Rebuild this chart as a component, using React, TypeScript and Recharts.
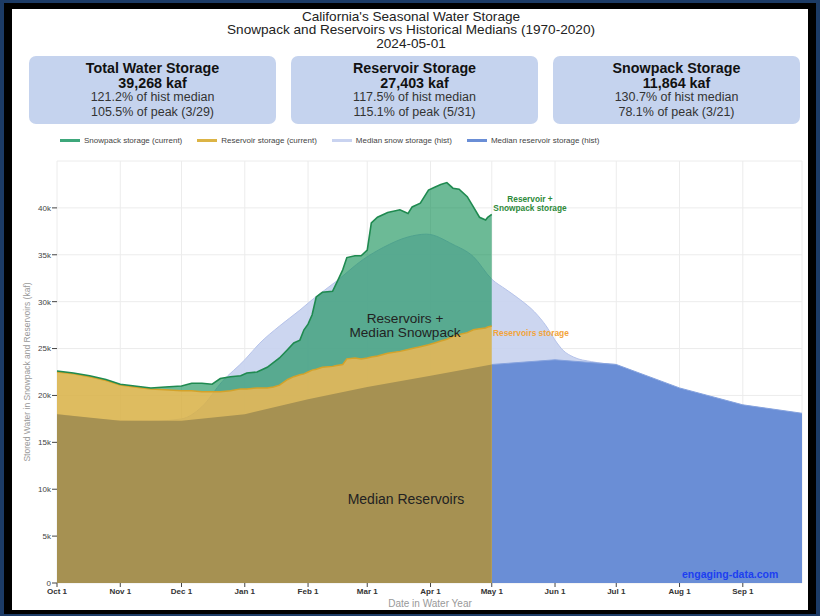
import React from "react";
import { ComposedChart, Area, Line, XAxis, YAxis, CartesianGrid } from "recharts";

const FONT = '"Liberation Sans", Arial, Helvetica, sans-serif';

// x axis: day of water year (Oct 1 = 0)
const monthTickDays = [0, 31, 61, 92, 123, 152, 183, 213, 244, 274, 305, 336];
const monthTickLabels = ["Oct 1", "Nov 1", "Dec 1", "Jan 1", "Feb 1", "Mar 1", "Apr 1", "May 1", "Jun 1", "Jul 1", "Aug 1", "Sep 1"];
const yTicks = [0, 5, 10, 15, 20, 25, 30, 35, 40]; // thousand acre-feet
const currentEndDay = 213; // May 1

// Median reservoir storage (hist), kaf (thousands)
const medResDays = [0, 31, 61, 92, 123, 152, 183, 213, 244, 274, 305, 336, 365];
const medRes = [18.0, 17.3, 17.3, 18.0, 19.6, 20.9, 22.1, 23.3, 23.8, 23.3, 20.8, 19.0, 18.1];

// Median reservoir + median snow storage (hist), top of the lavender band
const medTopDays = [0, 31, 46, 61, 71, 81, 92, 99, 109, 119, 125, 137, 150, 160, 172, 181, 194, 204, 213, 220, 227, 234, 240, 244, 248, 253, 262, 274];
const medTop = [18.0, 17.3, 17.25, 17.5, 18.8, 21.5, 23.8, 25.5, 27.4, 29.1, 30.2, 32.2, 34.5, 35.8, 36.9, 37.2, 36.1, 34.8, 32.4, 31.3, 30.2, 28.9, 27.3, 25.9, 24.8, 24.1, 23.6, 23.3];

// Current water year (to May 1)
const curDays = [0, 8, 16, 24, 31, 38, 46, 53, 61, 66, 71, 76, 80, 85, 90, 93, 98, 103, 106, 109, 113, 116, 119, 121, 123, 125, 127, 130, 135, 137, 140, 142, 146, 149, 152, 154, 157, 162, 168, 172, 174, 178, 182, 185, 188, 191, 194, 197, 201, 204, 207, 210, 211, 213];
const curRes = [22.5, 22.3, 22.0, 21.6, 21.1, 20.9, 20.7, 20.6, 20.5, 20.5, 20.4, 20.4, 20.4, 20.5, 20.7, 20.7, 20.8, 20.8, 20.9, 21.1, 21.7, 22.0, 22.2, 22.3, 22.5, 22.7, 22.8, 23.0, 23.1, 23.2, 23.3, 23.9, 24.0, 23.9, 24.0, 24.1, 24.2, 24.5, 24.7, 24.9, 25.0, 25.2, 25.4, 25.6, 25.8, 26.0, 26.3, 26.5, 26.7, 27.0, 27.1, 27.2, 27.3, 27.4];
const curSnow = [0.1, 0.1, 0.1, 0.1, 0.1, 0.1, 0.1, 0.3, 0.5, 0.8, 0.9, 0.8, 1.4, 1.5, 1.4, 1.7, 1.7, 2.2, 2.6, 2.9, 3.2, 3.6, 3.7, 4.7, 5.1, 5.9, 7.7, 8.0, 8.0, 8.8, 10.1, 10.8, 10.9, 11.0, 11.5, 14.3, 14.8, 15.0, 15.1, 14.5, 15.1, 15.3, 16.5, 16.6, 16.7, 16.7, 15.8, 15.5, 14.5, 13.1, 11.9, 11.5, 11.7, 11.9];

const titleLines = [
  "California's Seasonal Water Storage",
  "Snowpack and Reservoirs vs Historical Medians (1970-2020)",
  "2024-05-01",
];

const cards = [
  { title: "Total Water Storage", value: "39,268 kaf", l1: "121.2% of hist median", l2: "105.5% of peak (3/29)" },
  { title: "Reservoir Storage", value: "27,403 kaf", l1: "117.5% of hist median", l2: "115.1% of peak (5/31)" },
  { title: "Snowpack Storage", value: "11,864 kaf", l1: "130.7% of hist median", l2: "78.1% of peak (3/21)" },
];

const legendItems = [
  { label: "Snowpack storage (current)", color: "#3ea77b" },
  { label: "Reservoir storage (current)", color: "#dcb445" },
  { label: "Median snow storage (hist)", color: "#c9d3f0" },
  { label: "Median reservoir storage (hist)", color: "#6a8ed6" },
];

type Row = {
  day: number;
  medRes: number | null;
  medResBefore: number | null;
  medResAfter: number | null;
  medTop: number | null;
  curRes: number | null;
  curSnow: number | null;
  total: number | null;
};

const allDays = Array.from(new Set([...medResDays, ...medTopDays, ...curDays])).sort((a, b) => a - b);
const rows: Row[] = allDays.map((d) => {
  const mi = medResDays.indexOf(d);
  const ti = medTopDays.indexOf(d);
  const ci = curDays.indexOf(d);
  const mr = mi >= 0 ? medRes[mi] : null;
  return {
    day: d,
    medRes: mr,
    medResBefore: mr != null && d <= currentEndDay ? mr : null,
    medResAfter: mr != null && d >= currentEndDay ? mr : null,
    medTop: ti >= 0 ? medTop[ti] : null,
    curRes: ci >= 0 ? curRes[ci] : null,
    curSnow: ci >= 0 ? curSnow[ci] : null,
    total: ci >= 0 ? Math.round((curRes[ci] + curSnow[ci]) * 100) / 100 : null,
  };
});

const Txt = ({ x, y, anchor = "middle", children, fontSize = 10, style }: any) => {
  const w = 600;
  const h = Math.ceil(fontSize * 1.15);
  const left = anchor === "middle" ? x - w / 2 : anchor === "start" ? x : x - w;
  return (
    <div
      style={{
        position: "absolute",
        left,
        top: y - h / 2,
        width: w,
        height: h,
        lineHeight: `${h}px`,
        fontSize,
        textAlign: anchor === "middle" ? "center" : anchor === "start" ? "left" : "right",
        whiteSpace: "nowrap",
        fontFamily: FONT,
        pointerEvents: "none",
        ...style,
      }}
    >
      {children}
    </div>
  );
};

export default function App() {
  return (
    <div style={{ position: "fixed", left: 0, top: 0, width: 820, height: 616, background: "#1c3b66", fontFamily: FONT, overflow: "hidden" }}>
      <div style={{ position: "absolute", left: 4, top: 3, right: 4, bottom: 2, background: "#000" }} />
      <div style={{ position: "absolute", left: 12, top: 9, width: 796, height: 601, background: "#fff" }} />

      {/* Title */}
      {titleLines.map((t, i) => (
        <Txt key={t} x={411} y={16 + i * 13.5} fontSize={13.6} style={{ color: "#222", height: 13, lineHeight: "13px", top: 16 + i * 13.5 - 6.5 }}>
          {t}
        </Txt>
      ))}

      {/* Cards */}
      {cards.map((c, i) => (
        <div
          key={c.title}
          style={{
            position: "absolute",
            left: 29 + i * 262,
            top: 56,
            width: 247,
            height: 68,
            background: "#c5d3ee",
            borderRadius: 7,
            textAlign: "center",
            boxSizing: "border-box",
            paddingTop: 5,
            color: "#111",
          }}
        >
          <div style={{ fontWeight: "bold", fontSize: 14.3, lineHeight: "14.5px" }}>{c.title}</div>
          <div style={{ fontWeight: "bold", fontSize: 14.3, lineHeight: "14.5px" }}>{c.value}</div>
          <div style={{ fontSize: 12.5, lineHeight: "14.5px", color: "#333" }}>{c.l1}</div>
          <div style={{ fontSize: 12.5, lineHeight: "14.5px", color: "#333" }}>{c.l2}</div>
        </div>
      ))}

      {/* Legend */}
      <div style={{ position: "absolute", left: 60, top: 133, height: 14, display: "flex", alignItems: "center", fontSize: 8, color: "#444", whiteSpace: "nowrap" }}>
        {legendItems.map((it) => (
          <div key={it.label} style={{ display: "flex", alignItems: "center", marginRight: 15 }}>
            <div style={{ width: 20, height: 3, background: it.color, marginRight: 4 }} />
            <span>{it.label}</span>
          </div>
        ))}
      </div>

      {/* Chart */}
      <div style={{ position: "absolute", left: 0, top: 0 }}>
        <ComposedChart
          width={820}
          height={616}
          data={rows}
          margin={{ top: 161, right: 18, bottom: 13, left: 12 }}
          style={{ fontFamily: FONT }}
        >
          <CartesianGrid stroke="#ececec" strokeWidth={1} />
          <XAxis
            dataKey="day"
            type="number"
            domain={[0, 365]}
            ticks={monthTickDays}
            tickFormatter={(v: number) => monthTickLabels[monthTickDays.indexOf(v)] ?? ""}
            axisLine={false}
            tickLine={{ stroke: "#444" }}
            tickSize={4}
            tickMargin={1.5}
            height={20}
            interval={0}
            tick={{ fontSize: 8, fill: "#333", fontWeight: "bold", fontFamily: FONT }}
          />
          <YAxis
            type="number"
            domain={[0, 45]}
            ticks={yTicks}
            tickFormatter={(v: number) => (v === 0 ? "0" : `${v}k`)}
            axisLine={false}
            tickLine={{ stroke: "#444" }}
            tickSize={5}
            tickMargin={1}
            width={45}
            interval={0}
            tick={{ fontSize: 8, fill: "#444", fontFamily: FONT }}
          />
          <Area
            name="medTop"
            dataKey="medTop"
            type="monotone"
            fill="#c7d1ee"
            fillOpacity={0.9}
            stroke="#b6c3ea"
            strokeWidth={1}
            connectNulls
            dot={false}
            activeDot={false}
            isAnimationActive={false}
          />
          <Area
            name="medResAfter"
            dataKey="medResAfter"
            type="linear"
            fill="#6a8ed6"
            fillOpacity={1}
            stroke="#85a2de"
            strokeWidth={1}
            connectNulls
            dot={false}
            activeDot={false}
            isAnimationActive={false}
          />
          <Area
            name="curRes"
            dataKey="curRes"
            type="linear"
            fill="rgb(216,176,68)"
            fillOpacity={0.85}
            stroke="none"
            connectNulls
            dot={false}
            activeDot={false}
            isAnimationActive={false}
          />
          <Area
            name="medResBefore"
            dataKey="medResBefore"
            type="linear"
            fill="#a69152"
            fillOpacity={1}
            stroke="none"
            connectNulls
            dot={false}
            activeDot={false}
            isAnimationActive={false}
          />
          <Area
            name="snowBand"
            dataKey={(r: Row) => (r.curRes == null || r.curSnow == null ? null : [r.curRes, r.curRes + r.curSnow])}
            type="linear"
            fill="rgb(10,140,80)"
            fillOpacity={0.6}
            stroke="none"
            connectNulls
            dot={false}
            activeDot={false}
            isAnimationActive={false}
          />
          <Line
            name="curResLine"
            dataKey="curRes"
            type="linear"
            stroke="#d4a22a"
            strokeWidth={1.5}
            dot={false}
            activeDot={false}
            connectNulls
            isAnimationActive={false}
          />
          <Line
            name="totalLine"
            dataKey="total"
            type="linear"
            stroke="#1f8a50"
            strokeWidth={1.6}
            dot={false}
            activeDot={false}
            connectNulls
            isAnimationActive={false}
          />
        </ComposedChart>
      </div>

      {/* Axis titles */}
      <Txt x={430} y={604} fontSize={10} style={{ color: "#999" }}>Date in Water Year</Txt>
      <div
        style={{
          position: "absolute",
          left: 27 - 150,
          top: 372 - 6,
          width: 300,
          height: 12,
          lineHeight: "12px",
          textAlign: "center",
          transform: "rotate(-90deg)",
          fontSize: 8.5,
          color: "#999",
          whiteSpace: "nowrap",
        }}
      >
        Stored Water in Snowpack and Reservoirs (kaf)
      </div>

      {/* Annotations */}
      <Txt x={530} y={199} fontSize={8.3} style={{ fontWeight: "bold", color: "#2d8a3a" }}>Reservoir +</Txt>
      <Txt x={530} y={208} fontSize={8.3} style={{ fontWeight: "bold", color: "#2d8a3a" }}>Snowpack storage</Txt>
      <Txt x={493} y={333} anchor="start" fontSize={8.4} style={{ fontWeight: "bold", color: "#f2a43a" }}>Reservoirs storage</Txt>
      <Txt x={405} y={318} fontSize={13.6} style={{ color: "#222", height: 13, lineHeight: "13px", top: 318 - 6.5 }}>Reservoirs +</Txt>
      <Txt x={405} y={332} fontSize={13.6} style={{ color: "#222", height: 13, lineHeight: "13px", top: 332 - 6.5 }}>Median Snowpack</Txt>
      <Txt x={406} y={499} fontSize={14} style={{ color: "#222" }}>Median Reservoirs</Txt>
      <Txt x={682} y={574} anchor="start" fontSize={10.5} style={{ fontWeight: "bold", color: "#1d3ff0" }}>engaging-data.com</Txt>
    </div>
  );
}
